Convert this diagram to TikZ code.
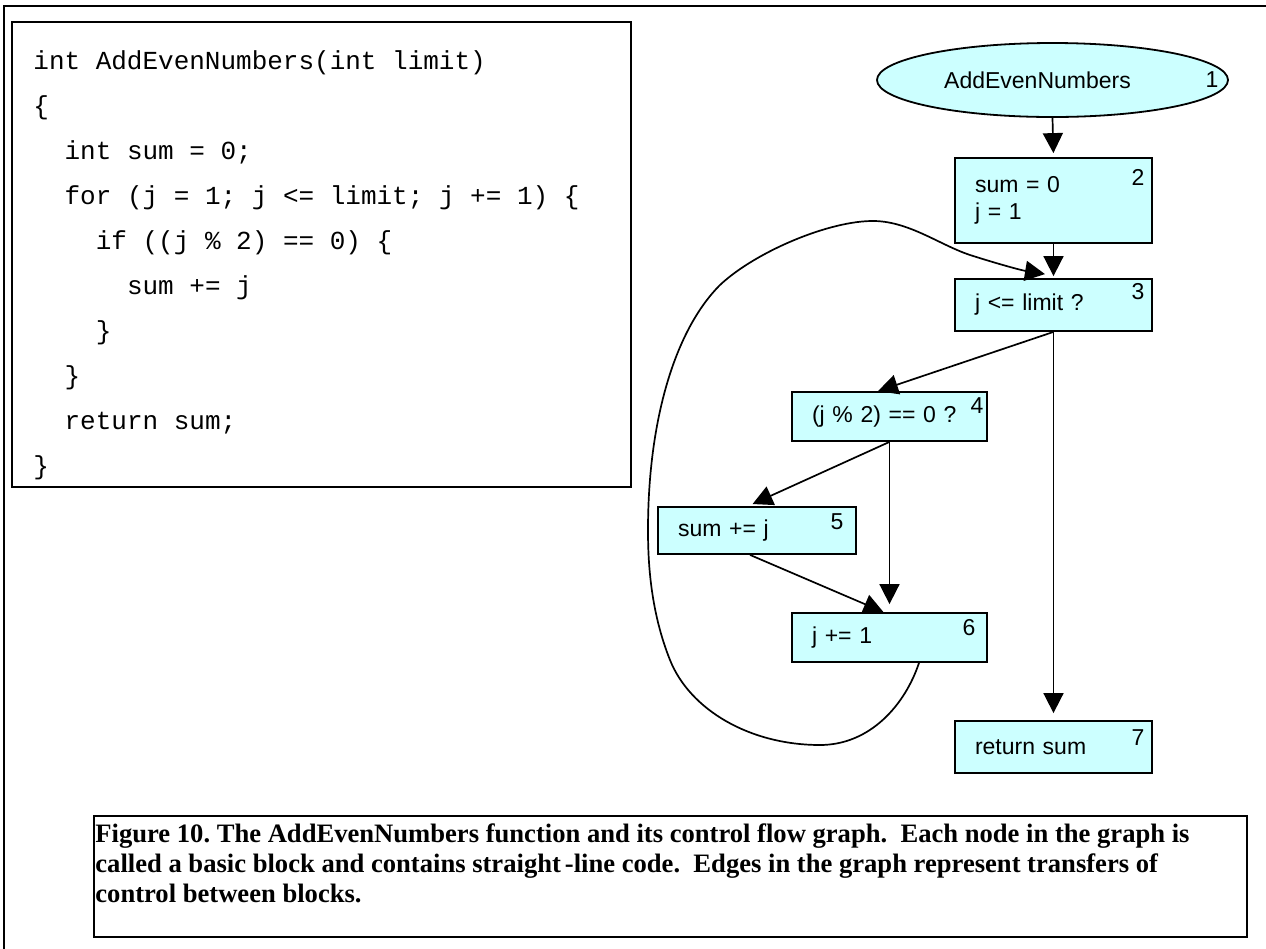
\documentclass[tikz,border=0pt]{standalone}
\usepackage{fontspec}
\setmainfont{Liberation Serif}
\newfontfamily\arialf{Liberation Sans}
\newfontfamily\courf{Liberation Mono}
\usetikzlibrary{shapes.geometric,arrows.meta,calc}
\definecolor{blockfill}{RGB}{204,255,255}
\def\u{0.5pt}
\frenchspacing
\begin{document}
\begin{tikzpicture}[x=0.5pt,y=-0.5pt,
  blockbox/.style={draw=black, line width=0.9pt, fill=blockfill, inner xsep=10pt, inner ysep=0pt,
    align=left, font=\arialf\fontsize{11.5pt}{13.5pt}\selectfont},
  numlbl/.style={font=\arialf\fontsize{11.5pt}{13pt}\selectfont, inner sep=0pt},
  arr/.style={-{Triangle[length=10pt,width=10pt]}, line width=0.85pt},
  codeline/.style={font=\courf\fontsize{13pt}{15pt}\selectfont, anchor=base west, inner sep=0pt},
  capline/.style={font=\bfseries\fontsize{13.3pt}{15pt}\selectfont, anchor=base west, inner sep=0pt},
  frame/.style={draw=black, line width=0.9pt, inner sep=0pt, anchor=north west}
]
\useasboundingbox (0,0) rectangle (1266,949);
\draw[line width=1.1pt] (4,949) -- (4,6) -- (1266,6);

% code box
\node[frame, minimum width=619*\u, minimum height=465*\u] (codebox) at (11,21) {};
\node[codeline] (c1) at ($(codebox.north west)+(22,48)$) {int AddEvenNumbers(int limit)};
\node[codeline] (c2) at ($(codebox.north west)+(22,93)$) {\{};
\node[codeline] (c3) at ($(codebox.north west)+(22,138)$) {\ \ int sum = 0;};
\node[codeline] (c4) at ($(codebox.north west)+(22,183)$) {\ \ for (j = 1; j <= limit; j += 1) \{};
\node[codeline] (c5) at ($(codebox.north west)+(22,228)$) {\ \ \ \ if ((j \% 2) == 0) \{};
\node[codeline] (c6) at ($(codebox.north west)+(22,273)$) {\ \ \ \ \ \ sum += j};
\node[codeline] (c7) at ($(codebox.north west)+(22,318)$) {\ \ \ \ \}};
\node[codeline] (c8) at ($(codebox.north west)+(22,363)$) {\ \ \}};
\node[codeline] (c9) at ($(codebox.north west)+(22,408)$) {\ \ return sum;};
\node[codeline] (c10) at ($(codebox.north west)+(22,453)$) {\}};

% graph nodes
\node[ellipse, draw=black, line width=0.9pt, fill=blockfill, inner sep=0pt,
  minimum width=351*\u, minimum height=74*\u, font=\arialf\fontsize{11.5pt}{13pt}\selectfont]
  (n1) at (1052.5,80) {AddEvenNumbers\hspace*{15pt}};
\node[blockbox, text width=157*\u, minimum height=85*\u] (n2) at (1053.5,200.5) {sum = 0\\j = 1};
\node[blockbox, text width=157*\u, minimum height=52*\u] (n3) at (1053.5,305) {j <= limit ?};
\node[blockbox, text width=155*\u, minimum height=49*\u] (n4) at (889.5,416.5) {(j \% 2) == 0 ?};
\node[blockbox, text width=158*\u, minimum height=47*\u] (n5) at (757,530.5) {sum += j};
\node[blockbox, text width=155*\u, minimum height=49*\u] (n6) at (889.5,637.5) {j += 1};
\node[blockbox, text width=157*\u, minimum height=52*\u] (n7) at (1053.5,747) {return sum};

\node[numlbl] (k1) at ($(n1.east)+(-17,0)$) {1};
\node[numlbl] (k2) at ($(n2.north east)+(-15,20)$) {2};
\node[numlbl] (k3) at ($(n3.north east)+(-15,13)$) {3};
\node[numlbl] (k4) at ($(n4.north east)+(-11,14)$) {4};
\node[numlbl] (k5) at ($(n5.north east)+(-20,16)$) {5};
\node[numlbl] (k6) at ($(n6.north east)+(-19,15)$) {6};
\node[numlbl] (k7) at ($(n7.north east)+(-15,17)$) {7};

% edges
\draw[arr, shorten >=2pt] (n1.south) -- (n2.north);
\draw[arr, shorten >=1pt] (n2.south) -- (n3.north);
\draw[arr] (n3.south) -- ($(n4.north)+(-11.5,0)$);
\draw[arr, shorten >=2.5pt] (n4.south) -- ($(n5.north)+(-9,0)$);
\draw[arr, shorten >=4pt] (n4.south) -- (n6.north);
\draw[arr] ($(n5.south)+(-7,0)$) -- ($(n6.north)+(-6,0)$);
\draw[arr, shorten >=3.5pt] (n3.south) -- (n7.north);
\draw[arr] ($(n6.south)+(29.5,0)$) .. controls (905,705) and (870,745) .. (820,745)
  .. controls (750,745) and (690,710) .. (670,660)
  .. controls (650,610) and (648,560) .. (648,530)
  .. controls (648,420) and (675,330) .. (720,285)
  .. controls (755,252) and (830,220) .. (875,221)
  .. controls (910,222) and (940,245) .. (970,255)
  .. controls (995,263) and (1020,270) .. ($(n3.north)+(-8.5,-4)$);

% caption
\node[frame, minimum width=1153*\u, minimum height=121*\u] (capbox) at (93,815) {};
\node[capline] (t1) at ($(capbox.north west)+(2,27)$) {Figure 10. The AddEvenNumbers function and its control flow graph.\ \ Each node in the graph is};
\node[capline] (t2) at ($(capbox.north west)+(2,57)$) {called a basic block and contains straight\kern2pt-line code.\ \ Edges in the graph represent transfers of};
\node[capline] (t3) at ($(capbox.north west)+(2,87)$) {control between blocks.};
\end{tikzpicture}
\end{document}
